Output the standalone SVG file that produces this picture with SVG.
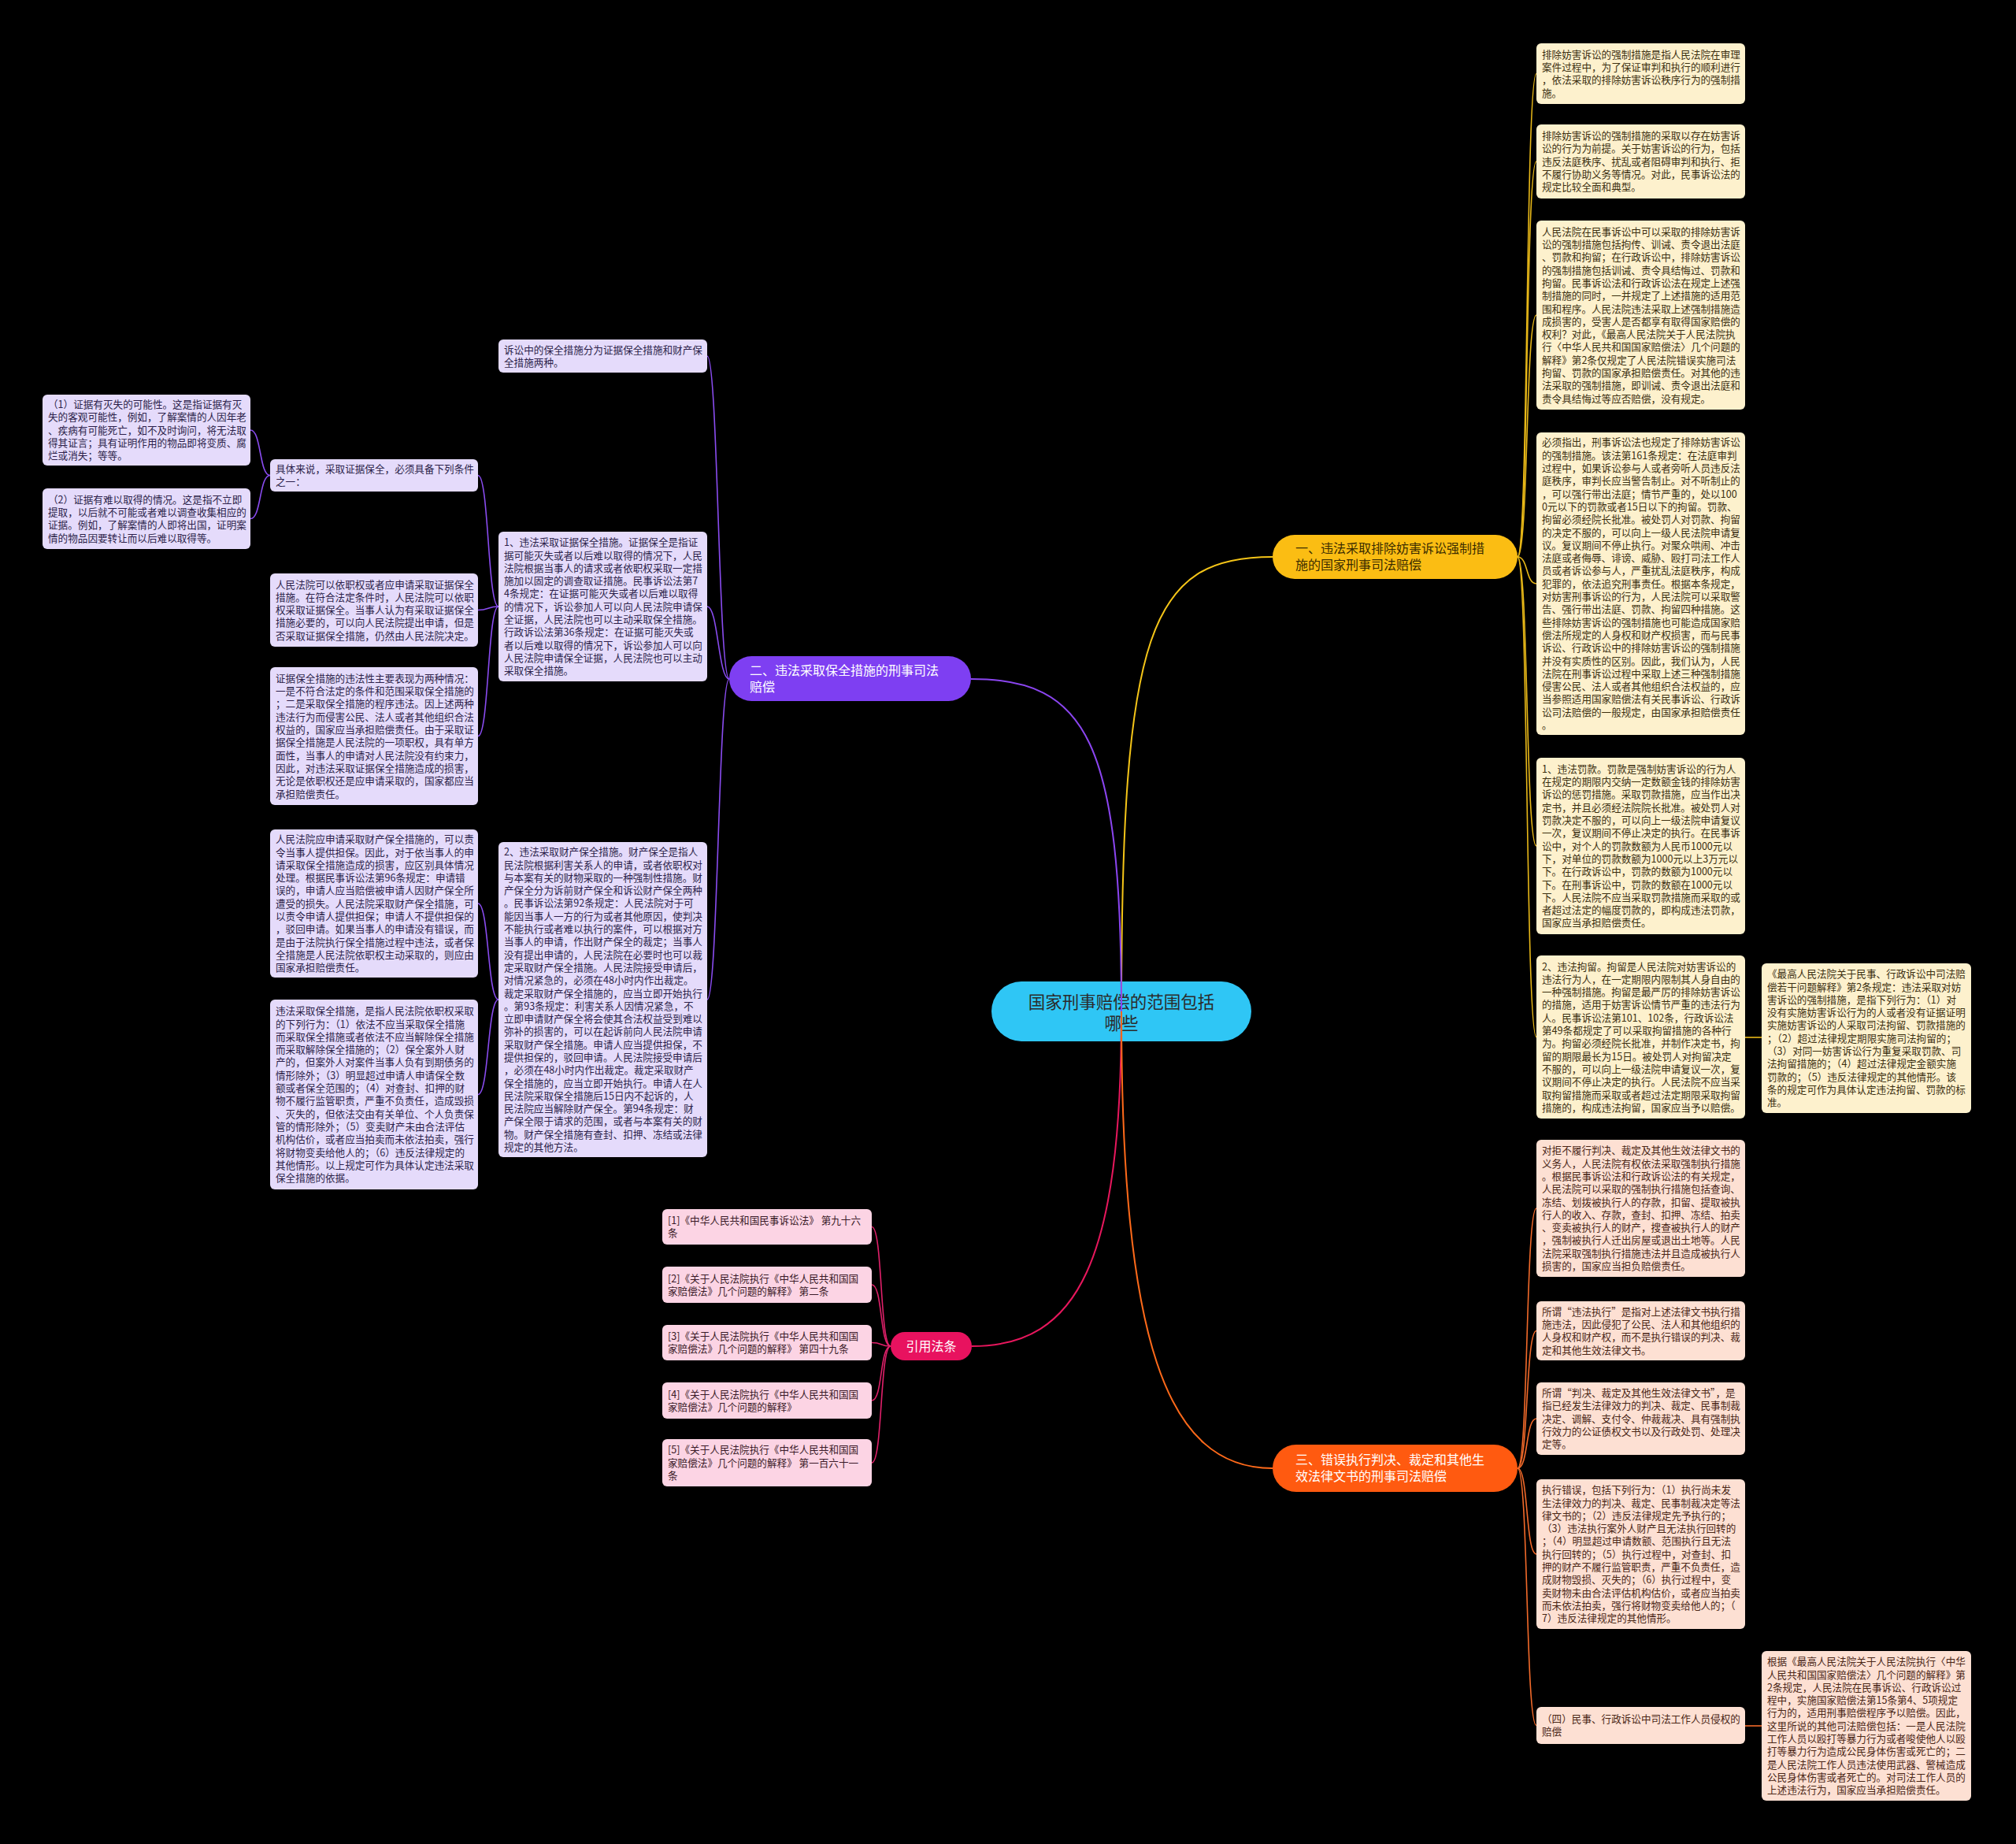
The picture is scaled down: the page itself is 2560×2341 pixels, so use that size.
<svg xmlns="http://www.w3.org/2000/svg" width="2560" height="2341" viewBox="0 0 2560 2341">
<style>
text{font-family:"Noto Sans CJK SC","Noto Sans",sans-serif}
.lf{font-size:12.6px}
.ly{fill:#fdf1cd}.lyt{fill:#3b2f10}
.lp{fill:#e5dbfb}.lpt{fill:#2c1f4a}
.lo{fill:#fde0d3}.lot{fill:#4a2616}
.lk{fill:#fcd4e4}.lkt{fill:#3a1a28}
.c{fill:none;stroke-width:2}
.cl{fill:none;stroke-width:1.6}
.bt{font-size:16px}
</style>
<rect x="0" y="0" width="2560" height="2341" fill="#000"/>
<g id="center">
<rect x="1259" y="1246" width="330" height="76" rx="38" fill="#2fc6f5"/>
<text x="1424" y="1280" text-anchor="middle" font-size="21.5" fill="#2b2b2b">国家刑事赔偿的范围包括</text>
<text x="1424" y="1307" text-anchor="middle" font-size="21.5" fill="#2b2b2b">哪些</text>
</g>
<g id="connectors">
<path class="c" stroke="#f5c518" d="M1424,1284 C1424,800 1460,707 1616,707"/>
<path class="c" stroke="#8b45f0" d="M1233,862 C1380,862 1424,940 1424,1284"/>
<path class="c" stroke="#e8175d" d="M1424,1284 C1424,1600 1370,1709 1234,1709"/>
<path class="c" stroke="#ff6a1a" d="M1424,1284 C1424,1700 1480,1864 1616,1864"/>
<g stroke="#e8b818" class="cl">
<path class="cl" d="M1927,707 C1941,707 1937,93.5 1951,93.5"/>
<path class="cl" d="M1927,707 C1941,707 1937,205 1951,205"/>
<path class="cl" d="M1927,707 C1941,707 1937,400 1951,400"/>
<path class="cl" d="M1927,707 C1941,707 1937,741 1951,741"/>
<path class="cl" d="M1927,707 C1941,707 1937,1074 1951,1074"/>
<path class="cl" d="M1927,707 C1941,707 1937,1316.5 1951,1316.5"/>
<path class="cl" d="M2216,1317 L2237,1317"/>
</g>
<g stroke="#f26a2a" class="cl">
<path class="cl" d="M1927,1864 C1941,1864 1937,1534 1951,1534"/>
<path class="cl" d="M1927,1864 C1941,1864 1937,1689.5 1951,1689.5"/>
<path class="cl" d="M1927,1864 C1941,1864 1937,1801 1951,1801"/>
<path class="cl" d="M1927,1864 C1941,1864 1937,1973 1951,1973"/>
<path class="cl" d="M1927,1864 C1941,1864 1937,2190.5 1951,2190.5"/>
<path class="cl" d="M2216,2191 L2237,2191"/>
</g>
<g stroke="#8a4cf0" class="cl">
<path class="cl" d="M926,862 C912,862 912,452 898,452"/>
<path class="cl" d="M926,862 C912,862 912,770 898,770"/>
<path class="cl" d="M926,862 C912,862 912,1269 898,1269"/>
<path class="cl" d="M633,770 C619,770 621,603.5 607,603.5"/>
<path class="cl" d="M633,770 C619,770 621,774.5 607,774.5"/>
<path class="cl" d="M633,770 C619,770 621,934.5 607,934.5"/>
<path class="cl" d="M343,603.5 C329,603.5 332,546 318,546"/>
<path class="cl" d="M343,603.5 C329,603.5 332,658.5 318,658.5"/>
<path class="cl" d="M633,1269 C619,1269 621,1147 607,1147"/>
<path class="cl" d="M633,1269 C619,1269 621,1389.5 607,1389.5"/>
</g>
<g stroke="#e0206a" class="cl">
<path class="cl" d="M1131,1709 C1117,1709 1121,1557.5 1107,1557.5"/>
<path class="cl" d="M1131,1709 C1117,1709 1121,1631 1107,1631"/>
<path class="cl" d="M1131,1709 C1117,1709 1121,1704.5 1107,1704.5"/>
<path class="cl" d="M1131,1709 C1117,1709 1121,1778 1107,1778"/>
<path class="cl" d="M1131,1709 C1117,1709 1121,1857 1107,1857"/>
</g>
</g>
<g id="b1">
<rect x="1616" y="679" width="311" height="56" rx="28" fill="#fbbd13"/>
<text class="bt" x="1645" y="702" fill="#3a2c00">一、违法采取排除妨害诉讼强制措<tspan x="1645" dy="21">施的国家刑事司法赔偿</tspan></text>
</g>
<g id="b2">
<rect x="926" y="833" width="307" height="57" rx="28.5" fill="#7e3ff2"/>
<text class="bt" x="952" y="857" fill="#fff">二、违法采取保全措施的刑事司法<tspan x="952" dy="21">赔偿</tspan></text>
</g>
<g id="b3">
<rect x="1616" y="1834" width="311" height="60" rx="30" fill="#ff5a10"/>
<text class="bt" x="1645" y="1859" fill="#fff">三、错误执行判决、裁定和其他生<tspan x="1645" dy="21">效法律文书的刑事司法赔偿</tspan></text>
</g>
<g id="b4">
<rect x="1131" y="1691" width="103" height="36" rx="18" fill="#e8125f"/>
<text class="bt" x="1182.5" y="1715" text-anchor="middle" fill="#fff">引用法条</text>
</g>
<g id="y1"><rect class="ly" x="1951" y="55" width="265" height="77" rx="6"/>
<text class="lf lyt" x="1958" y="73.7">排除妨害诉讼的强制措施是指人民法院在审理<tspan x="1958" dy="16.3">案件过程中，为了保证审判和执行的顺利进行</tspan><tspan x="1958" dy="16.3">，依法采取的排除妨害诉讼秩序行为的强制措</tspan><tspan x="1958" dy="16.3">施。</tspan></text></g>
<g id="y2"><rect class="ly" x="1951" y="158" width="265" height="94" rx="6"/>
<text class="lf lyt" x="1958" y="177">排除妨害诉讼的强制措施的采取以存在妨害诉<tspan x="1958" dy="16.3">讼的行为为前提。关于妨害诉讼的行为，包括</tspan><tspan x="1958" dy="16.3">违反法庭秩序、扰乱或者阻碍审判和执行、拒</tspan><tspan x="1958" dy="16.3">不履行协助义务等情况。对此，民事诉讼法的</tspan><tspan x="1958" dy="16.3">规定比较全面和典型。</tspan></text></g>
<g id="y3"><rect class="ly" x="1951" y="280" width="265" height="240" rx="6"/>
<text class="lf lyt" x="1958" y="298.7">人民法院在民事诉讼中可以采取的排除妨害诉<tspan x="1958" dy="16.3">讼的强制措施包括拘传、训诫、责令退出法庭</tspan><tspan x="1958" dy="16.3">、罚款和拘留；在行政诉讼中，排除妨害诉讼</tspan><tspan x="1958" dy="16.3">的强制措施包括训诫、责令具结悔过、罚款和</tspan><tspan x="1958" dy="16.3">拘留。民事诉讼法和行政诉讼法在规定上述强</tspan><tspan x="1958" dy="16.3">制措施的同时，一并规定了上述措施的适用范</tspan><tspan x="1958" dy="16.3">围和程序。人民法院违法采取上述强制措施造</tspan><tspan x="1958" dy="16.3">成损害的，受害人是否都享有取得国家赔偿的</tspan><tspan x="1958" dy="16.3">权利？对此，《最高人民法院关于人民法院执</tspan><tspan x="1958" dy="16.3">行〈中华人民共和国国家赔偿法〉几个问题的</tspan><tspan x="1958" dy="16.3">解释》第2条仅规定了人民法院错误实施司法</tspan><tspan x="1958" dy="16.3">拘留、罚款的国家承担赔偿责任。对其他的违</tspan><tspan x="1958" dy="16.3">法采取的强制措施，即训诫、责令退出法庭和</tspan><tspan x="1958" dy="16.3">责令具结悔过等应否赔偿，没有规定。</tspan></text></g>
<g id="y4"><rect class="ly" x="1951" y="549" width="265" height="384" rx="6"/>
<text class="lf lyt" x="1958" y="566.4">必须指出，刑事诉讼法也规定了排除妨害诉讼<tspan x="1958" dy="16.3">的强制措施。该法第161条规定：在法庭审判</tspan><tspan x="1958" dy="16.3">过程中，如果诉讼参与人或者旁听人员违反法</tspan><tspan x="1958" dy="16.3">庭秩序，审判长应当警告制止。对不听制止的</tspan><tspan x="1958" dy="16.3">，可以强行带出法庭；情节严重的，处以100</tspan><tspan x="1958" dy="16.3">0元以下的罚款或者15日以下的拘留。罚款、</tspan><tspan x="1958" dy="16.3">拘留必须经院长批准。被处罚人对罚款、拘留</tspan><tspan x="1958" dy="16.3">的决定不服的，可以向上一级人民法院申请复</tspan><tspan x="1958" dy="16.3">议。复议期间不停止执行。对聚众哄闹、冲击</tspan><tspan x="1958" dy="16.3">法庭或者侮辱、诽谤、威胁、殴打司法工作人</tspan><tspan x="1958" dy="16.3">员或者诉讼参与人，严重扰乱法庭秩序，构成</tspan><tspan x="1958" dy="16.3">犯罪的，依法追究刑事责任。根据本条规定，</tspan><tspan x="1958" dy="16.3">对妨害刑事诉讼的行为，人民法院可以采取警</tspan><tspan x="1958" dy="16.3">告、强行带出法庭、罚款、拘留四种措施。这</tspan><tspan x="1958" dy="16.3">些排除妨害诉讼的强制措施也可能造成国家赔</tspan><tspan x="1958" dy="16.3">偿法所规定的人身权和财产权损害，而与民事</tspan><tspan x="1958" dy="16.3">诉讼、行政诉讼中的排除妨害诉讼的强制措施</tspan><tspan x="1958" dy="16.3">并没有实质性的区别。因此，我们认为，人民</tspan><tspan x="1958" dy="16.3">法院在刑事诉讼过程中采取上述三种强制措施</tspan><tspan x="1958" dy="16.3">侵害公民、法人或者其他组织合法权益的，应</tspan><tspan x="1958" dy="16.3">当参照适用国家赔偿法有关民事诉讼、行政诉</tspan><tspan x="1958" dy="16.3">讼司法赔偿的一般规定，由国家承担赔偿责任</tspan><tspan x="1958" dy="16.3">。</tspan></text></g>
<g id="y5"><rect class="ly" x="1951" y="962" width="265" height="224" rx="6"/>
<text class="lf lyt" x="1958" y="980.8">1、违法罚款。罚款是强制妨害诉讼的行为人<tspan x="1958" dy="16.3">在规定的期限内交纳一定数额金钱的排除妨害</tspan><tspan x="1958" dy="16.3">诉讼的惩罚措施。采取罚款措施，应当作出决</tspan><tspan x="1958" dy="16.3">定书，并且必须经法院院长批准。被处罚人对</tspan><tspan x="1958" dy="16.3">罚款决定不服的，可以向上一级法院申请复议</tspan><tspan x="1958" dy="16.3">一次，复议期间不停止决定的执行。在民事诉</tspan><tspan x="1958" dy="16.3">讼中，对个人的罚款数额为人民币1000元以</tspan><tspan x="1958" dy="16.3">下，对单位的罚款数额为1000元以上3万元以</tspan><tspan x="1958" dy="16.3">下。在行政诉讼中，罚款的数额为1000元以</tspan><tspan x="1958" dy="16.3">下。在刑事诉讼中，罚款的数额在1000元以</tspan><tspan x="1958" dy="16.3">下。人民法院不应当采取罚款措施而采取的或</tspan><tspan x="1958" dy="16.3">者超过法定的幅度罚款的，即构成违法罚款，</tspan><tspan x="1958" dy="16.3">国家应当承担赔偿责任。</tspan></text></g>
<g id="y6"><rect class="ly" x="1951" y="1213" width="265" height="207" rx="6"/>
<text class="lf lyt" x="1958" y="1231.5">2、违法拘留。拘留是人民法院对妨害诉讼的<tspan x="1958" dy="16.3">违法行为人，在一定期限内限制其人身自由的</tspan><tspan x="1958" dy="16.3">一种强制措施。拘留是最严厉的排除妨害诉讼</tspan><tspan x="1958" dy="16.3">的措施，适用于妨害诉讼情节严重的违法行为</tspan><tspan x="1958" dy="16.3">人。民事诉讼法第101、102条，行政诉讼法</tspan><tspan x="1958" dy="16.3">第49条都规定了可以采取拘留措施的各种行</tspan><tspan x="1958" dy="16.3">为。拘留必须经院长批准，并制作决定书，拘</tspan><tspan x="1958" dy="16.3">留的期限最长为15日。被处罚人对拘留决定</tspan><tspan x="1958" dy="16.3">不服的，可以向上一级法院申请复议一次，复</tspan><tspan x="1958" dy="16.3">议期间不停止决定的执行。人民法院不应当采</tspan><tspan x="1958" dy="16.3">取拘留措施而采取或者超过法定期限采取拘留</tspan><tspan x="1958" dy="16.3">措施的，构成违法拘留，国家应当予以赔偿。</tspan></text></g>
<g id="y7"><rect class="ly" x="2237" y="1223" width="266" height="190" rx="6"/>
<text class="lf lyt" x="2244" y="1241.2">《最高人民法院关于民事、行政诉讼中司法赔<tspan x="2244" dy="16.3">偿若干问题解释》第2条规定：违法采取对妨</tspan><tspan x="2244" dy="16.3">害诉讼的强制措施，是指下列行为：（1）对</tspan><tspan x="2244" dy="16.3">没有实施妨害诉讼行为的人或者没有证据证明</tspan><tspan x="2244" dy="16.3">实施妨害诉讼的人采取司法拘留、罚款措施的</tspan><tspan x="2244" dy="16.3">；（2）超过法律规定期限实施司法拘留的；</tspan><tspan x="2244" dy="16.3">（3）对同一妨害诉讼行为重复采取罚款、司</tspan><tspan x="2244" dy="16.3">法拘留措施的；（4）超过法律规定金额实施</tspan><tspan x="2244" dy="16.3">罚款的；（5）违反法律规定的其他情形。该</tspan><tspan x="2244" dy="16.3">条的规定可作为具体认定违法拘留、罚款的标</tspan><tspan x="2244" dy="16.3">准。</tspan></text></g>
<g id="o1"><rect class="lo" x="1951" y="1447" width="265" height="174" rx="6"/>
<text class="lf lot" x="1958" y="1465.3">对拒不履行判决、裁定及其他生效法律文书的<tspan x="1958" dy="16.3">义务人，人民法院有权依法采取强制执行措施</tspan><tspan x="1958" dy="16.3">。根据民事诉讼法和行政诉讼法的有关规定，</tspan><tspan x="1958" dy="16.3">人民法院可以采取的强制执行措施包括查询、</tspan><tspan x="1958" dy="16.3">冻结、划拨被执行人的存款，扣留、提取被执</tspan><tspan x="1958" dy="16.3">行人的收入、存款，查封、扣押、冻结、拍卖</tspan><tspan x="1958" dy="16.3">、变卖被执行人的财产，搜查被执行人的财产</tspan><tspan x="1958" dy="16.3">，强制被执行人迁出房屋或退出土地等。人民</tspan><tspan x="1958" dy="16.3">法院采取强制执行措施违法并且造成被执行人</tspan><tspan x="1958" dy="16.3">损害的，国家应当担负赔偿责任。</tspan></text></g>
<g id="o2"><rect class="lo" x="1951" y="1652" width="265" height="75" rx="6"/>
<text class="lf lot" x="1958" y="1669.7">所谓“违法执行”是指对上述法律文书执行措<tspan x="1958" dy="16.3">施违法，因此侵犯了公民、法人和其他组织的</tspan><tspan x="1958" dy="16.3">人身权和财产权，而不是执行错误的判决、裁</tspan><tspan x="1958" dy="16.3">定和其他生效法律文书。</tspan></text></g>
<g id="o3"><rect class="lo" x="1951" y="1755" width="265" height="92" rx="6"/>
<text class="lf lot" x="1958" y="1773">所谓“判决、裁定及其他生效法律文书”，是<tspan x="1958" dy="16.3">指已经发生法律效力的判决、裁定、民事制裁</tspan><tspan x="1958" dy="16.3">决定、调解、支付令、仲裁裁决、具有强制执</tspan><tspan x="1958" dy="16.3">行效力的公证债权文书以及行政处罚、处理决</tspan><tspan x="1958" dy="16.3">定等。</tspan></text></g>
<g id="o4"><rect class="lo" x="1951" y="1878" width="265" height="190" rx="6"/>
<text class="lf lot" x="1958" y="1896.2">执行错误，包括下列行为：（1）执行尚未发<tspan x="1958" dy="16.3">生法律效力的判决、裁定、民事制裁决定等法</tspan><tspan x="1958" dy="16.3">律文书的；（2）违反法律规定先予执行的；</tspan><tspan x="1958" dy="16.3">（3）违法执行案外人财产且无法执行回转的</tspan><tspan x="1958" dy="16.3">；（4）明显超过申请数额、范围执行且无法</tspan><tspan x="1958" dy="16.3">执行回转的；（5）执行过程中，对查封、扣</tspan><tspan x="1958" dy="16.3">押的财产不履行监管职责，严重不负责任，造</tspan><tspan x="1958" dy="16.3">成财物毁损、灭失的；（6）执行过程中，变</tspan><tspan x="1958" dy="16.3">卖财物未由合法评估机构估价，或者应当拍卖</tspan><tspan x="1958" dy="16.3">而未依法拍卖，强行将财物变卖给他人的；（</tspan><tspan x="1958" dy="16.3">7）违反法律规定的其他情形。</tspan></text></g>
<g id="o5"><rect class="lo" x="1951" y="2167" width="265" height="47" rx="6"/>
<text class="lf lot" x="1958" y="2187">（四）民事、行政诉讼中司法工作人员侵权的<tspan x="1958" dy="16.3">赔偿</tspan></text></g>
<g id="o6"><rect class="lo" x="2237" y="2096" width="266" height="190" rx="6"/>
<text class="lf lot" x="2244" y="2114.2">根据《最高人民法院关于人民法院执行〈中华<tspan x="2244" dy="16.3">人民共和国国家赔偿法〉几个问题的解释》第</tspan><tspan x="2244" dy="16.3">2条规定，人民法院在民事诉讼、行政诉讼过</tspan><tspan x="2244" dy="16.3">程中，实施国家赔偿法第15条第4、5项规定</tspan><tspan x="2244" dy="16.3">行为的，适用刑事赔偿程序予以赔偿。因此，</tspan><tspan x="2244" dy="16.3">这里所说的其他司法赔偿包括：一是人民法院</tspan><tspan x="2244" dy="16.3">工作人员以殴打等暴力行为或者唆使他人以殴</tspan><tspan x="2244" dy="16.3">打等暴力行为造成公民身体伤害或死亡的；二</tspan><tspan x="2244" dy="16.3">是人民法院工作人员违法使用武器、警械造成</tspan><tspan x="2244" dy="16.3">公民身体伤害或者死亡的。对司法工作人员的</tspan><tspan x="2244" dy="16.3">上述违法行为，国家应当承担赔偿责任。</tspan></text></g>
<g id="p1"><rect class="lp" x="633" y="431" width="265" height="42" rx="6"/>
<text class="lf lpt" x="640" y="448.5">诉讼中的保全措施分为证据保全措施和财产保<tspan x="640" dy="16.3">全措施两种。</tspan></text></g>
<g id="p2"><rect class="lp" x="633" y="675" width="265" height="190" rx="6"/>
<text class="lf lpt" x="640" y="693.2">1、违法采取证据保全措施。证据保全是指证<tspan x="640" dy="16.3">据可能灭失或者以后难以取得的情况下，人民</tspan><tspan x="640" dy="16.3">法院根据当事人的请求或者依职权采取一定措</tspan><tspan x="640" dy="16.3">施加以固定的调查取证措施。民事诉讼法第7</tspan><tspan x="640" dy="16.3">4条规定：在证据可能灭失或者以后难以取得</tspan><tspan x="640" dy="16.3">的情况下，诉讼参加人可以向人民法院申请保</tspan><tspan x="640" dy="16.3">全证据，人民法院也可以主动采取保全措施。</tspan><tspan x="640" dy="16.3">行政诉讼法第36条规定：在证据可能灭失或</tspan><tspan x="640" dy="16.3">者以后难以取得的情况下，诉讼参加人可以向</tspan><tspan x="640" dy="16.3">人民法院申请保全证据，人民法院也可以主动</tspan><tspan x="640" dy="16.3">采取保全措施。</tspan></text></g>
<g id="p3"><rect class="lp" x="633" y="1069" width="265" height="400" rx="6"/>
<text class="lf lpt" x="640" y="1086.2">2、违法采取财产保全措施。财产保全是指人<tspan x="640" dy="16.3">民法院根据利害关系人的申请，或者依职权对</tspan><tspan x="640" dy="16.3">与本案有关的财物采取的一种强制性措施。财</tspan><tspan x="640" dy="16.3">产保全分为诉前财产保全和诉讼财产保全两种</tspan><tspan x="640" dy="16.3">。民事诉讼法第92条规定：人民法院对于可</tspan><tspan x="640" dy="16.3">能因当事人一方的行为或者其他原因，使判决</tspan><tspan x="640" dy="16.3">不能执行或者难以执行的案件，可以根据对方</tspan><tspan x="640" dy="16.3">当事人的申请，作出财产保全的裁定；当事人</tspan><tspan x="640" dy="16.3">没有提出申请的，人民法院在必要时也可以裁</tspan><tspan x="640" dy="16.3">定采取财产保全措施。人民法院接受申请后，</tspan><tspan x="640" dy="16.3">对情况紧急的，必须在48小时内作出裁定。</tspan><tspan x="640" dy="16.3">裁定采取财产保全措施的，应当立即开始执行</tspan><tspan x="640" dy="16.3">。第93条规定：利害关系人因情况紧急，不</tspan><tspan x="640" dy="16.3">立即申请财产保全将会使其合法权益受到难以</tspan><tspan x="640" dy="16.3">弥补的损害的，可以在起诉前向人民法院申请</tspan><tspan x="640" dy="16.3">采取财产保全措施。申请人应当提供担保，不</tspan><tspan x="640" dy="16.3">提供担保的，驳回申请。人民法院接受申请后</tspan><tspan x="640" dy="16.3">，必须在48小时内作出裁定。裁定采取财产</tspan><tspan x="640" dy="16.3">保全措施的，应当立即开始执行。申请人在人</tspan><tspan x="640" dy="16.3">民法院采取保全措施后15日内不起诉的，人</tspan><tspan x="640" dy="16.3">民法院应当解除财产保全。第94条规定：财</tspan><tspan x="640" dy="16.3">产保全限于请求的范围，或者与本案有关的财</tspan><tspan x="640" dy="16.3">物。财产保全措施有查封、扣押、冻结或法律</tspan><tspan x="640" dy="16.3">规定的其他方法。</tspan></text></g>
<g id="p2a"><rect class="lp" x="343" y="583" width="264" height="41" rx="6"/>
<text class="lf lpt" x="350" y="600">具体来说，采取证据保全，必须具备下列条件<tspan x="350" dy="16.3">之一：</tspan></text></g>
<g id="p2a1"><rect class="lp" x="54" y="501" width="264" height="90" rx="6"/>
<text class="lf lpt" x="61" y="518">（1）证据有灭失的可能性。这是指证据有灭<tspan x="61" dy="16.3">失的客观可能性，例如，了解案情的人因年老</tspan><tspan x="61" dy="16.3">、疾病有可能死亡，如不及时询问，将无法取</tspan><tspan x="61" dy="16.3">得其证言；具有证明作用的物品即将变质、腐</tspan><tspan x="61" dy="16.3">烂或消失；等等。</tspan></text></g>
<g id="p2a2"><rect class="lp" x="54" y="620" width="264" height="77" rx="6"/>
<text class="lf lpt" x="61" y="638.7">（2）证据有难以取得的情况。这是指不立即<tspan x="61" dy="16.3">提取，以后就不可能或者难以调查收集相应的</tspan><tspan x="61" dy="16.3">证据。例如，了解案情的人即将出国，证明案</tspan><tspan x="61" dy="16.3">情的物品因要转让而以后难以取得等。</tspan></text></g>
<g id="p2b"><rect class="lp" x="343" y="728" width="264" height="93" rx="6"/>
<text class="lf lpt" x="350" y="746.5">人民法院可以依职权或者应申请采取证据保全<tspan x="350" dy="16.3">措施。在符合法定条件时，人民法院可以依职</tspan><tspan x="350" dy="16.3">权采取证据保全。当事人认为有采取证据保全</tspan><tspan x="350" dy="16.3">措施必要的，可以向人民法院提出申请，但是</tspan><tspan x="350" dy="16.3">否采取证据保全措施，仍然由人民法院决定。</tspan></text></g>
<g id="p2c"><rect class="lp" x="343" y="847" width="264" height="175" rx="6"/>
<text class="lf lpt" x="350" y="865.8">证据保全措施的违法性主要表现为两种情况：<tspan x="350" dy="16.3">一是不符合法定的条件和范围采取保全措施的</tspan><tspan x="350" dy="16.3">；二是采取保全措施的程序违法。因上述两种</tspan><tspan x="350" dy="16.3">违法行为而侵害公民、法人或者其他组织合法</tspan><tspan x="350" dy="16.3">权益的，国家应当承担赔偿责任。由于采取证</tspan><tspan x="350" dy="16.3">据保全措施是人民法院的一项职权，具有单方</tspan><tspan x="350" dy="16.3">面性，当事人的申请对人民法院没有约束力，</tspan><tspan x="350" dy="16.3">因此，对违法采取证据保全措施造成的损害，</tspan><tspan x="350" dy="16.3">无论是依职权还是应申请采取的，国家都应当</tspan><tspan x="350" dy="16.3">承担赔偿责任。</tspan></text></g>
<g id="p3a"><rect class="lp" x="343" y="1053" width="264" height="188" rx="6"/>
<text class="lf lpt" x="350" y="1070.2">人民法院应申请采取财产保全措施的，可以责<tspan x="350" dy="16.3">令当事人提供担保。因此，对于依当事人的申</tspan><tspan x="350" dy="16.3">请采取保全措施造成的损害，应区别具体情况</tspan><tspan x="350" dy="16.3">处理。根据民事诉讼法第96条规定：申请错</tspan><tspan x="350" dy="16.3">误的，申请人应当赔偿被申请人因财产保全所</tspan><tspan x="350" dy="16.3">遭受的损失。人民法院采取财产保全措施，可</tspan><tspan x="350" dy="16.3">以责令申请人提供担保；申请人不提供担保的</tspan><tspan x="350" dy="16.3">，驳回申请。如果当事人的申请没有错误，而</tspan><tspan x="350" dy="16.3">是由于法院执行保全措施过程中违法，或者保</tspan><tspan x="350" dy="16.3">全措施是人民法院依职权主动采取的，则应由</tspan><tspan x="350" dy="16.3">国家承担赔偿责任。</tspan></text></g>
<g id="p3b"><rect class="lp" x="343" y="1269" width="264" height="241" rx="6"/>
<text class="lf lpt" x="350" y="1288.2">违法采取保全措施，是指人民法院依职权采取<tspan x="350" dy="16.3">的下列行为：（1）依法不应当采取保全措施</tspan><tspan x="350" dy="16.3">而采取保全措施或者依法不应当解除保全措施</tspan><tspan x="350" dy="16.3">而采取解除保全措施的；（2）保全案外人财</tspan><tspan x="350" dy="16.3">产的，但案外人对案件当事人负有到期债务的</tspan><tspan x="350" dy="16.3">情形除外；（3）明显超过申请人申请保全数</tspan><tspan x="350" dy="16.3">额或者保全范围的；（4）对查封、扣押的财</tspan><tspan x="350" dy="16.3">物不履行监管职责，严重不负责任，造成毁损</tspan><tspan x="350" dy="16.3">、灭失的，但依法交由有关单位、个人负责保</tspan><tspan x="350" dy="16.3">管的情形除外；（5）变卖财产未由合法评估</tspan><tspan x="350" dy="16.3">机构估价，或者应当拍卖而未依法拍卖，强行</tspan><tspan x="350" dy="16.3">将财物变卖给他人的；（6）违反法律规定的</tspan><tspan x="350" dy="16.3">其他情形。以上规定可作为具体认定违法采取</tspan><tspan x="350" dy="16.3">保全措施的依据。</tspan></text></g>
<g id="r1"><rect class="lk" x="841" y="1535" width="266" height="45" rx="6"/>
<text class="lf lkt" x="848" y="1554">[1]《中华人民共和国民事诉讼法》 第九十六<tspan x="848" dy="16.3">条</tspan></text></g>
<g id="r2"><rect class="lk" x="841" y="1608" width="266" height="46" rx="6"/>
<text class="lf lkt" x="848" y="1627.5">[2]《关于人民法院执行《中华人民共和国国<tspan x="848" dy="16.3">家赔偿法》几个问题的解释》 第二条</tspan></text></g>
<g id="r3"><rect class="lk" x="841" y="1682" width="266" height="45" rx="6"/>
<text class="lf lkt" x="848" y="1701">[3]《关于人民法院执行《中华人民共和国国<tspan x="848" dy="16.3">家赔偿法》几个问题的解释》 第四十九条</tspan></text></g>
<g id="r4"><rect class="lk" x="841" y="1755" width="266" height="46" rx="6"/>
<text class="lf lkt" x="848" y="1774.5">[4]《关于人民法院执行《中华人民共和国国<tspan x="848" dy="16.3">家赔偿法》几个问题的解释》</tspan></text></g>
<g id="r5"><rect class="lk" x="841" y="1827" width="266" height="60" rx="6"/>
<text class="lf lkt" x="848" y="1845.4">[5]《关于人民法院执行《中华人民共和国国<tspan x="848" dy="16.3">家赔偿法》几个问题的解释》 第一百六十一</tspan><tspan x="848" dy="16.3">条</tspan></text></g>
</svg>
